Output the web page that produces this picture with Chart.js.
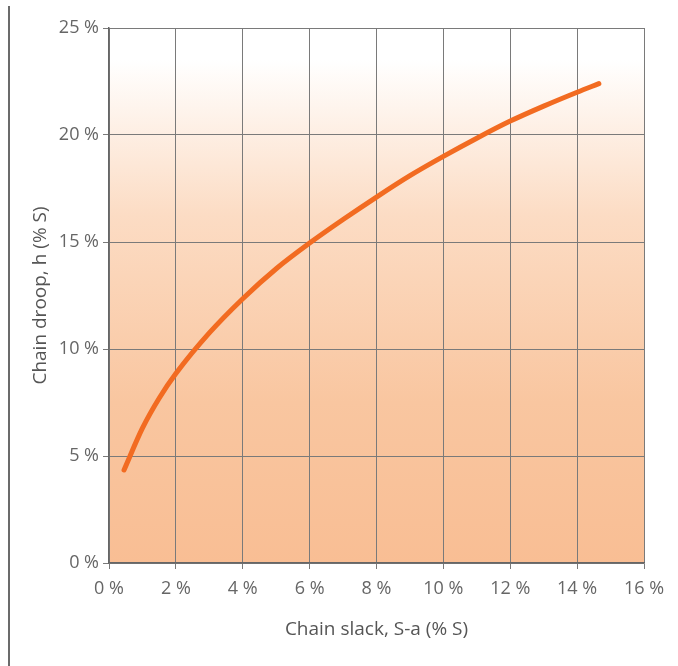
<!DOCTYPE html>
<html>
<head>
<meta charset="utf-8">
<script src="https://cdn.jsdelivr.net/npm/chart.js@4/dist/chart.umd.min.js"></script>
<style>
  html, body { margin: 0; padding: 0; background: #fff; }
  #wrap { width: 678px; height: 666px; position: relative; }
</style>
</head>
<body>
<div id="wrap"><canvas id="c"></canvas></div>
<script>
// Chain slack S-a (% of S)
const slack = [0.45, 1.0, 1.5, 2.0, 3.0, 4.0, 5.0, 6.0, 7.0, 8.0, 9.0, 10.0, 11.0, 12.0, 13.0, 14.0, 14.65];
// Chain droop h (% of S)
const droop = [4.35, 6.3, 7.7, 8.85, 10.75, 12.35, 13.75, 14.95, 16.05, 17.1, 18.1, 19.0, 19.85, 20.65, 21.35, 22.0, 22.4];
const xTicks = [0, 2, 4, 6, 8, 10, 12, 14, 16];
const yTicks = [0, 5, 10, 15, 20, 25];
const xTitle = 'Chain slack, S-a (% S)';
const yTitle = 'Chain droop, h (% S)';

const FONT = '"Open Sans", "Noto Sans", sans-serif';

const bgPlugin = {
  id: 'bg',
  beforeDraw(chart) {
    const { ctx, chartArea: a } = chart;
    ctx.save();
    // decorative vertical rule at far left
    ctx.fillStyle = '#6b6b6b';
    ctx.fillRect(8, 6, 2, chart.height - 6);
    const g = ctx.createLinearGradient(0, a.top, 0, a.bottom);
    g.addColorStop(0, '#ffffff');
    g.addColorStop(0.06, '#ffffff');
    g.addColorStop(0.35, '#fcdcc4');
    g.addColorStop(0.7, '#f9c6a0');
    g.addColorStop(1, '#f9be94');
    ctx.fillStyle = g;
    ctx.fillRect(a.left, a.top, a.right - a.left, a.bottom - a.top);
    ctx.restore();
  }
};

new Chart(document.getElementById('c'), {
  type: 'line',
  data: {
    datasets: [{
      data: slack.map((s, i) => ({ x: s, y: droop[i] })),
      borderColor: '#f26b21',
      borderWidth: 5,
      borderCapStyle: 'round',
      pointRadius: 0,
      cubicInterpolationMode: 'monotone',
      fill: false
    }]
  },
  options: {
    responsive: true,
    maintainAspectRatio: false,
    animation: false,
    layout: { padding: { left: 20, top: 28, right: 34, bottom: 0 } },
    plugins: { legend: { display: false }, tooltip: { enabled: false } },
    scales: {
      x: {
        type: 'linear', min: 0, max: 16,
        afterBuildTicks(s) { s.ticks = xTicks.map(v => ({ value: v })); },
        afterFit(s) { s.height = 103; },
        grid: { color: '#7a7a7a', lineWidth: 1, tickLength: 6, drawTicks: true },
        border: { color: '#666', width: 1.5 },
        ticks: {
          font: { family: FONT, size: 18 }, color: '#666', padding: 9,
          callback: v => v + ' %'
        },
        title: {
          display: true, text: xTitle, color: '#555',
          font: { family: FONT, size: 19 },
          padding: { top: 0, bottom: 25 }
        }
      },
      y: {
        type: 'linear', min: 0, max: 25,
        afterBuildTicks(s) { s.ticks = yTicks.map(v => ({ value: v })); },
        afterFit(s) { s.width = 89; },
        grid: { color: '#7a7a7a', lineWidth: 1, tickLength: 6, drawTicks: true },
        border: { color: '#666', width: 1.5 },
        ticks: {
          font: { family: FONT, size: 18 }, color: '#666', padding: 4,
          callback: v => v + ' %'
        },
        title: {
          display: true, text: yTitle, color: '#555',
          font: { family: FONT, size: 19 },
          padding: { top: 9, bottom: 0 }
        }
      }
    }
  },
  plugins: [bgPlugin]
});
</script>
</body>
</html>
